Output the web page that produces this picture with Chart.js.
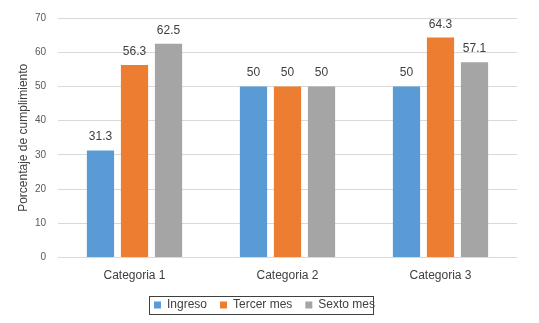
<!DOCTYPE html>
<html>
<head>
<meta charset="utf-8">
<script src="https://cdn.jsdelivr.net/npm/chart.js@4/dist/chart.umd.min.js"></script>
<style>
  body { margin: 0; background: #fff; }
  #grafica { display: block; }
</style>
</head>
<body>
<canvas id="grafica" width="539" height="323"></canvas>
<script>
var categorias = ['Categoria 1', 'Categoria 2', 'Categoria 3'];
var ingreso = [31.3, 50, 50];
var tercerMes = [56.3, 50, 64.3];
var sextoMes = [62.5, 50, 57.1];

var fuente = '"Liberation Sans", Arial, sans-serif';

// etiquetas de valor encima de cada barra
const etiquetas = {
    id: 'etiquetas',
    afterDatasetsDraw(chart) {
        const ctx = chart.ctx;
        ctx.save();
        ctx.font = '12px ' + fuente;
        ctx.fillStyle = '#404040';
        ctx.textAlign = 'center';
        ctx.textBaseline = 'alphabetic';
        chart.data.datasets.forEach((ds, i) => {
            chart.getDatasetMeta(i).data.forEach((bar, j) => {
                ctx.fillText(String(ds.data[j]), bar.x, bar.y - 10);
            });
        });
        ctx.restore();
    }
};

// marco alrededor de la leyenda
const marcoLeyenda = {
    id: 'marcoLeyenda',
    afterDraw(chart) {
        const boxes = chart.legend.legendHitBoxes;
        if (!boxes || !boxes.length) return;
        const ctx = chart.ctx;
        const first = boxes[0], last = boxes[boxes.length - 1];
        const cy = first.top + first.height / 2;
        ctx.save();
        ctx.strokeStyle = '#404040';
        ctx.lineWidth = 1;
        ctx.strokeRect(Math.round(first.left - 5) + 0.5, Math.round(cy - 9) + 0.5,
            Math.round(last.left + last.width - first.left + 3), 18);
        ctx.restore();
    }
};

var ctx = document.getElementById('grafica').getContext('2d');
const data = {
    labels: categorias,
    datasets: [
        { label: 'Ingreso', data: ingreso, backgroundColor: '#5b9bd5' },
        { label: 'Tercer mes', data: tercerMes, backgroundColor: '#ed7d31' },
        { label: 'Sexto mes', data: sextoMes, backgroundColor: '#a5a5a5' },
    ],
};
const config = {
    type: 'bar',
    data: data,
    options: {
        responsive: false,
        animation: false,
        datasets: { bar: { barPercentage: 0.8, categoryPercentage: 0.667 } },
        layout: { padding: { top: 11, right: 22, left: 12, bottom: 2 } },
        plugins: {
            legend: {
                position: 'bottom',
                labels: {
                    boxWidth: 7, boxHeight: 7, padding: 13,
                    color: '#404040',
                    font: { family: fuente, size: 12 },
                },
            },
            tooltip: { enabled: false },
        },
        scales: {
            x: {
                grid: { display: false },
                border: { display: false },
                ticks: { color: '#404040', padding: 3, font: { family: fuente, size: 12 } },
            },
            y: {
                min: 0, max: 70,
                afterFit(axis) { axis.width = 46; },
                ticks: { stepSize: 10, color: '#595959', padding: 12, font: { family: fuente, size: 10 } },
                grid: { color: '#d9d9d9', drawTicks: false },
                border: { display: false },
                title: {
                    display: true, text: 'Porcentaje de cumplimiento', color: '#404040',
                    font: { family: fuente, size: 12 },
                },
            },
        },
    },
    plugins: [etiquetas, marcoLeyenda],
};
miGrafica = new Chart(ctx, config);
</script>
</body>
</html>
